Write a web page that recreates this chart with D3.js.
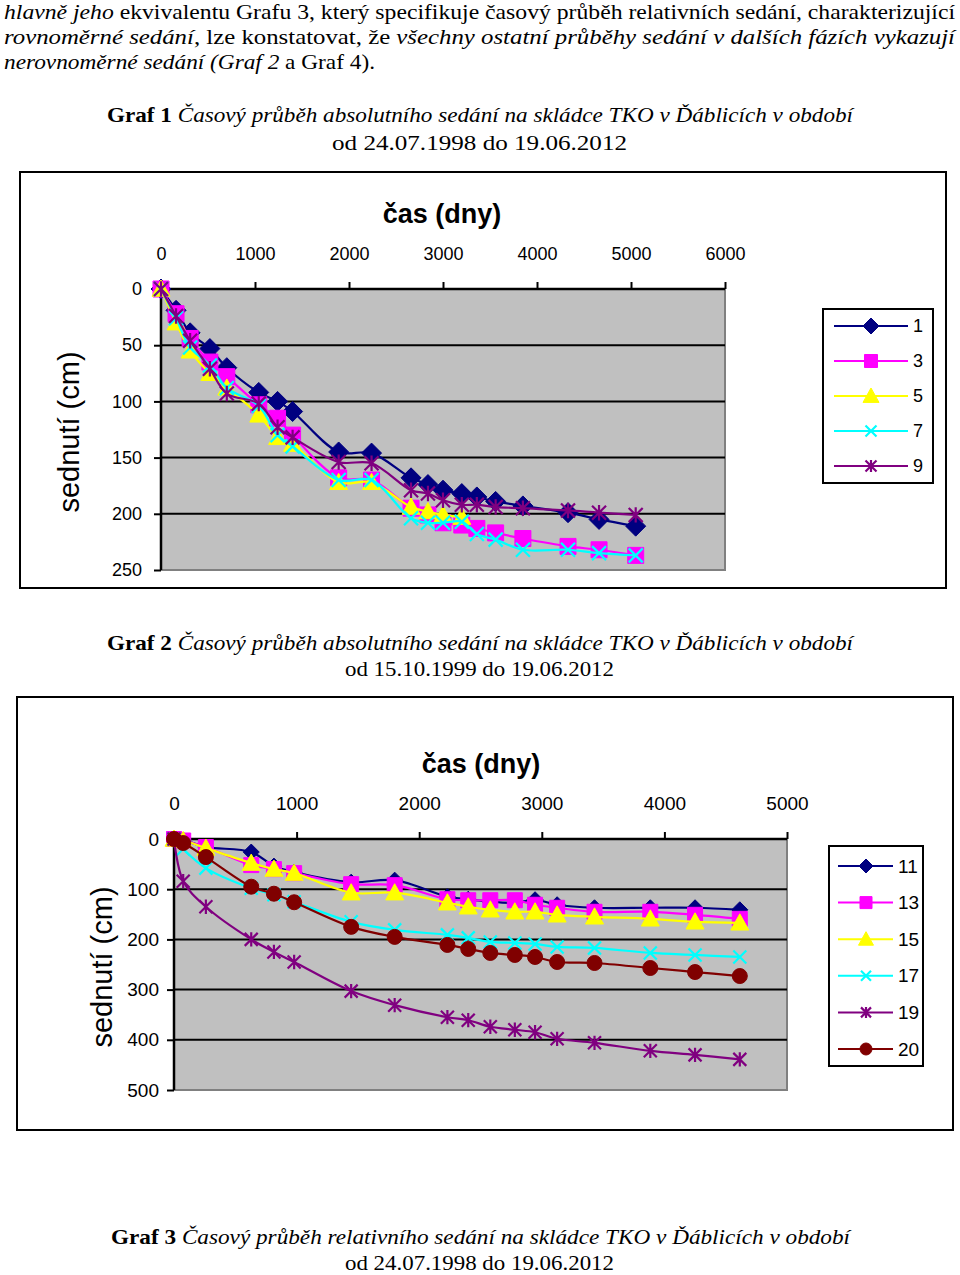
<!DOCTYPE html>
<html>
<head>
<meta charset="utf-8">
<script src="https://cdn.jsdelivr.net/npm/d3@7"></script>
<style>
body { margin: 0; background: #fff; }
svg { display: block; }
</style>
</head>
<body>
<div id="page"></div>
<script>
// Graf 1 - days since 24.07.1998, settlement (cm)
var days1 = [0, 160, 310, 520, 700, 1040, 1240, 1400, 1890, 2240, 2660, 2840, 3000, 3200, 3360, 3560, 3850, 4330, 4660, 5050];
var g1_1 = [0, 19, 39, 53, 70, 92, 100, 109, 145, 146, 168, 174, 179, 182, 185, 189, 193, 199, 205, 211];
var g1_3 = [0, 22, 44, 65, 78, 103, 115, 130, 168, 170, 195, 201, 208, 210, 213, 217, 222, 229, 232, 237];
var g1_5 = [0, 30, 55, 75, 88, 112, 132, 138, 172, 172, 194, 198, 201, 203];
var g1_7 = [0, 26, 52, 68, 88, 104, 130, 140, 170, 170, 204, 208, 208, 207, 218, 223, 232, 232, 235, 237];
var g1_9 = [0, 24, 46, 71, 93, 102, 123, 132, 154, 155, 179, 182, 188, 192, 192, 194, 195, 197, 199, 201];
var names1 = ["1", "3", "5", "7", "9"];
var xTicks1 = [0, 1000, 2000, 3000, 4000, 5000, 6000];
var yTicks1 = [0, 50, 100, 150, 200, 250];

// Graf 2 - days since 15.10.1999
var days2 = [0, 75, 260, 630, 815, 980, 1445, 1800, 2230, 2400, 2580, 2780, 2945, 3125, 3430, 3885, 4250, 4615];
var g2_11 = [0, 2, 16, 26, 54, 66, 86, 82, 115, 120, 125, 127, 121, 131, 137, 137, 137, 141];
var g2_13 = [0, 3, 16, 52, 60, 68, 90, 92, 120, 122, 122, 122, 131, 137, 145, 145, 151, 159];
var g2_15 = [0, 3, 18, 48, 60, 68, 107, 107, 127, 135, 141, 145, 145, 151, 155, 159, 165, 167];
var g2_17 = [0, 20, 58, 98, 111, 125, 165, 181, 191, 197, 205, 207, 209, 215, 217, 227, 231, 235];
var g2_19 = [0, 84, 135, 200, 225, 245, 303, 331, 355, 361, 374, 380, 385, 398, 406, 422, 430, 439];
var g2_20 = [0, 8, 36, 95, 109, 126, 175, 195, 211, 219, 227, 231, 235, 245, 247, 257, 265, 273];
var names2 = ["11", "13", "15", "17", "19", "20"];
var xTicks2 = [0, 1000, 2000, 3000, 4000, 5000];
var yTicks2 = [0, 100, 200, 300, 400, 500];

var sans = "Liberation Sans, Arial, sans-serif";
var serif = "Liberation Serif, Times New Roman, serif";

var svg = d3.select("#page").append("svg")
    .attr("width", 960)
    .attr("height", 1275);

// text lines of the document
function textLine(x, y, parts, len, anchor) {
  var t = svg.append("text")
    .attr("x", x)
    .attr("y", y)
    .attr("font-family", serif)
    .attr("font-size", 21)
    .attr("text-anchor", anchor || "start");
  parts.forEach(function(p) {
    t.append("tspan")
      .text(p[0])
      .attr("font-style", p[1] == "i" ? "italic" : null)
      .attr("font-weight", p[1] == "b" ? "bold" : null);
  });
  if (len) t.attr("textLength", len).attr("lengthAdjust", "spacingAndGlyphs");
  return t;
}

textLine(4, 19, [["hlavně jeho", "i"], [" ekvivalentu Grafu 3, který specifikuje časový průběh relativních sedání, charakterizující", "n"]], 951);
textLine(4, 44, [["rovnoměrné sedání", "i"], [", lze konstatovat, že ", "n"], ["všechny ostatní průběhy sedání v dalších fázích vykazují", "i"]], 951);
textLine(4, 69, [["nerovnoměrné sedání (Graf 2", "i"], [" a Graf 4).", "n"]], 371);

textLine(107, 122, [["Graf 1  ", "b"], ["Časový průběh absolutního sedání na skládce TKO v Ďáblicích v období", "i"]], 746);
textLine(332, 150, [["od 24.07.1998 do 19.06.2012", "n"]], 295);
textLine(107, 650, [["Graf 2  ", "b"], ["Časový průběh absolutního sedání na skládce TKO v Ďáblicích v období", "i"]], 746);
textLine(345, 676, [["od 15.10.1999 do 19.06.2012", "n"]], 269);
textLine(111, 1244, [["Graf 3  ", "b"], ["Časový průběh relativního sedání na skládce TKO v Ďáblicích v období", "i"]], 739);
textLine(345, 1270, [["od 24.07.1998 do 19.06.2012", "n"]], 269);

// marker shapes
function markerPath(type, r) {
  if (type == "diamond") return "M0," + (-r) + "L" + r + ",0L0," + r + "L" + (-r) + ",0Z";
  if (type == "square") return "M" + (-r) + "," + (-r) + "h" + (2 * r) + "v" + (2 * r) + "h" + (-2 * r) + "Z";
  if (type == "triangle") return "M0," + (-r) + "L" + r + "," + (r * 0.8) + "L" + (-r) + "," + (r * 0.8) + "Z";
  if (type == "x") return "M" + (-r) + "," + (-r) + "L" + r + "," + r + "M" + r + "," + (-r) + "L" + (-r) + "," + r;
  if (type == "star") return "M" + (-r) + "," + (-r) + "L" + r + "," + r + "M" + r + "," + (-r) + "L" + (-r) + "," + r + "M0," + (-r * 1.1) + "L0," + (r * 1.1);
  if (type == "circle") return d3.symbol(d3.symbolCircle, Math.PI * r * r)();
}

function drawMarker(g, type, color, r) {
  var open = (type == "x" || type == "star");
  g.append("path")
    .attr("d", markerPath(type, r))
    .attr("fill", open ? "none" : color)
    .attr("stroke", color)
    .attr("stroke-width", open ? 2.2 : 1);
}

function drawChart(c) {
  var x = d3.scaleLinear().domain(c.xDomain).range([c.left, c.right]);
  var y = d3.scaleLinear().domain(c.yDomain).range([c.top, c.bottom]);

  // outer frame
  svg.append("rect")
    .attr("x", c.frame[0]).attr("y", c.frame[1])
    .attr("width", c.frame[2] - c.frame[0]).attr("height", c.frame[3] - c.frame[1])
    .attr("fill", "#fff").attr("stroke", "#000").attr("stroke-width", 2);

  // plot area
  svg.append("rect")
    .attr("x", c.left).attr("y", c.top)
    .attr("width", c.right - c.left).attr("height", c.bottom - c.top)
    .attr("fill", "#c0c0c0").attr("stroke", "#808080").attr("stroke-width", 2);

  // gridlines
  svg.append("g").selectAll("line")
    .data(c.yTicks.slice(1, -1))
    .enter().append("line")
      .attr("x1", c.left).attr("x2", c.right)
      .attr("y1", function(d) { return y(d); })
      .attr("y2", function(d) { return y(d); })
      .attr("stroke", "#000").attr("stroke-width", 2);

  // axes
  var xAxis = svg.append("g")
    .attr("transform", "translate(0," + c.top + ")")
    .call(d3.axisTop(x).tickValues(c.xTicks).tickSize(7).tickPadding(c.xPad).tickFormat(d3.format("d")));
  var yAxis = svg.append("g")
    .attr("transform", "translate(" + c.left + ",0)")
    .call(d3.axisLeft(y).tickValues(c.yTicks).tickSize(7).tickPadding(c.yPad).tickFormat(d3.format("d")));
  [xAxis, yAxis].forEach(function(a) {
    a.select(".domain").attr("stroke", "#000").attr("stroke-width", 2.5);
    a.selectAll(".tick line").attr("stroke", "#000").attr("stroke-width", 2);
    a.selectAll(".tick text")
      .attr("font-family", sans).attr("font-size", c.tickSize).attr("fill", "#000");
  });
  xAxis.select(".domain").attr("d", "M" + c.left + ",0H" + c.right);
  yAxis.select(".domain").attr("d", "M0," + c.top + "V" + c.bottom);
  xAxis.selectAll(".tick").filter(function(d) { return d == 0; }).select("line").remove();

  // titles
  svg.append("text")
    .attr("x", c.titleX).attr("y", c.titleY)
    .attr("text-anchor", "middle")
    .attr("font-family", sans).attr("font-size", 27).attr("font-weight", "bold")
    .text("čas (dny)");
  svg.append("text")
    .attr("transform", "translate(" + c.yLabelX + "," + c.yLabelY + ") rotate(-90)")
    .attr("text-anchor", "middle")
    .attr("font-family", sans).attr("font-size", 29)
    .text("sednutí (cm)");

  // series
  var line = d3.line()
    .x(function(d) { return x(d[0]); })
    .y(function(d) { return y(d[1]); })
    .curve(d3.curveCatmullRom.alpha(0.5));

  c.series.forEach(function(s) {
    var pts = s.values.map(function(v, i) { return [c.days[i], v]; });
    var g = svg.append("g");
    g.append("path")
      .datum(pts)
      .attr("d", line)
      .attr("fill", "none")
      .attr("stroke", s.color)
      .attr("stroke-width", 2.2);
    g.selectAll(".mk")
      .data(pts)
      .enter().append("g")
        .attr("transform", function(d) { return "translate(" + x(d[0]) + "," + y(d[1]) + ")"; })
        .each(function() { drawMarker(d3.select(this), s.marker, s.color, c.markerR[s.marker]); });
  });

  // legend
  var L = c.legend;
  svg.append("rect")
    .attr("x", L.box[0]).attr("y", L.box[1])
    .attr("width", L.box[2] - L.box[0]).attr("height", L.box[3] - L.box[1])
    .attr("fill", "#fff").attr("stroke", "#000").attr("stroke-width", 2);
  c.series.forEach(function(s, i) {
    var ly = L.y0 + i * L.dy;
    var g = svg.append("g");
    g.append("line")
      .attr("x1", L.x1).attr("x2", L.x2).attr("y1", ly).attr("y2", ly)
      .attr("stroke", s.color).attr("stroke-width", 2);
    var m = g.append("g").attr("transform", "translate(" + L.mx + "," + ly + ")");
    drawMarker(m, s.marker, s.color, L.r[s.marker]);
    g.append("text")
      .attr("x", L.tx).attr("y", ly).attr("dy", "0.35em")
      .attr("font-family", sans).attr("font-size", L.fs)
      .text(s.name);
  });
}

var colors = {navy: "#000080", magenta: "#ff00ff", yellow: "#ffff00", cyan: "#00ffff", purple: "#800080", maroon: "#800000"};

drawChart({
  frame: [20, 172, 946, 588],
  left: 161, right: 725, top: 289, bottom: 570,
  xDomain: [0, 6000], yDomain: [0, 250],
  xTicks: xTicks1, yTicks: yTicks1,
  xPad: 22, yPad: 12, tickSize: 18,
  titleX: 442, titleY: 223,
  yLabelX: 79, yLabelY: 432,
  days: days1,
  markerR: {diamond: 10, square: 8, triangle: 9, x: 7, star: 7},
  series: [
    {name: names1[0], values: g1_1, color: colors.navy, marker: "diamond"},
    {name: names1[1], values: g1_3, color: colors.magenta, marker: "square"},
    {name: names1[2], values: g1_5, color: colors.yellow, marker: "triangle"},
    {name: names1[3], values: g1_7, color: colors.cyan, marker: "x"},
    {name: names1[4], values: g1_9, color: colors.purple, marker: "star"}
  ],
  legend: {box: [823, 309, 933, 483], y0: 326, dy: 35, x1: 834, x2: 908, mx: 871, tx: 913, fs: 18,
           r: {diamond: 8, square: 6.5, triangle: 8, x: 5.5, star: 5.5}}
});

drawChart({
  frame: [17, 697, 953, 1130],
  left: 174, right: 787, top: 839, bottom: 1090,
  xDomain: [0, 5000], yDomain: [0, 500],
  xTicks: xTicks2, yTicks: yTicks2,
  xPad: 22, yPad: 8, tickSize: 19,
  titleX: 481, titleY: 773,
  yLabelX: 112, yLabelY: 967,
  days: days2,
  markerR: {diamond: 8, square: 7.5, triangle: 9, x: 6.5, star: 6.5, circle: 7.5},
  series: [
    {name: names2[0], values: g2_11, color: colors.navy, marker: "diamond"},
    {name: names2[1], values: g2_13, color: colors.magenta, marker: "square"},
    {name: names2[2], values: g2_15, color: colors.yellow, marker: "triangle"},
    {name: names2[3], values: g2_17, color: colors.cyan, marker: "x"},
    {name: names2[4], values: g2_19, color: colors.purple, marker: "star"},
    {name: names2[5], values: g2_20, color: colors.maroon, marker: "circle"}
  ],
  legend: {box: [829, 846, 923, 1066], y0: 866, dy: 36.6, x1: 838, x2: 893, mx: 866, tx: 898, fs: 19,
           r: {diamond: 7, square: 6, triangle: 7.5, x: 5, star: 5, circle: 6}}
});
</script>
</body>
</html>
